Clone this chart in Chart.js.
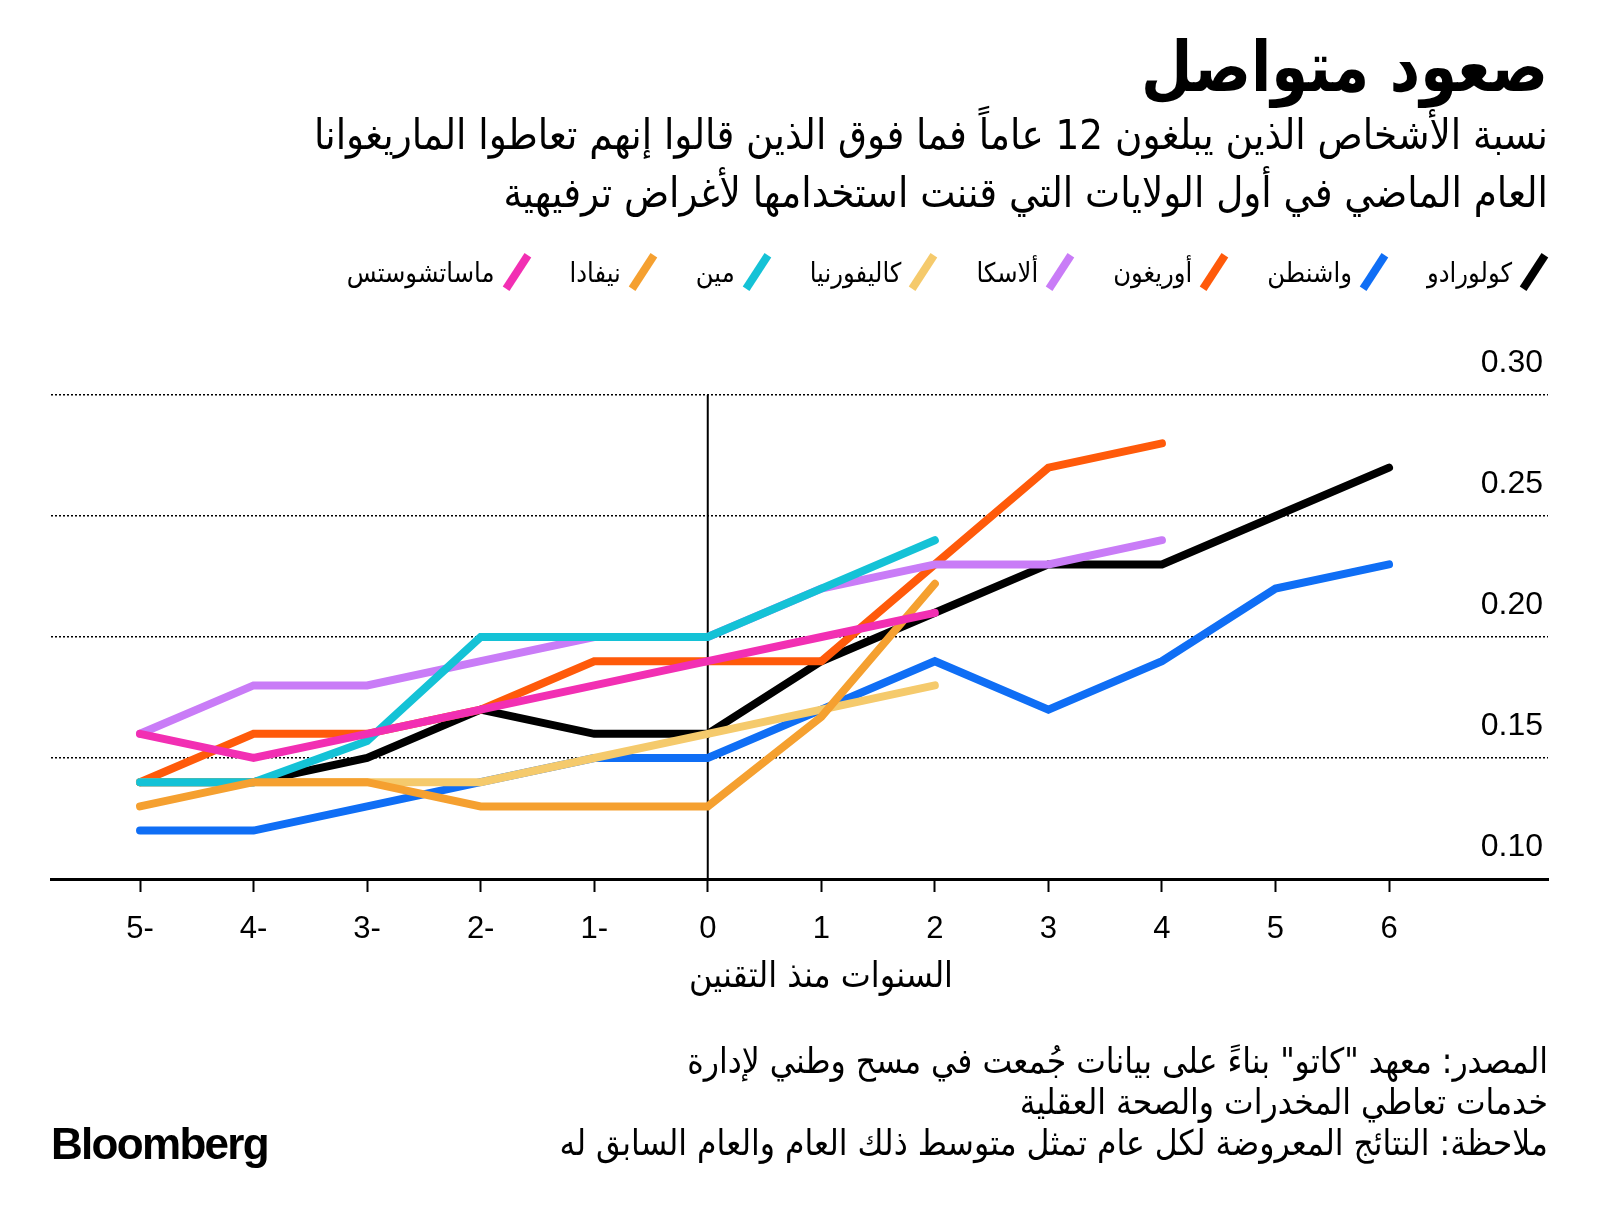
<!DOCTYPE html>
<html lang="ar">
<head>
<meta charset="utf-8">
<script src="https://cdn.jsdelivr.net/npm/chart.js@4.4.1/dist/chart.umd.min.js"></script>
<style>
  body { margin: 0; width: 1600px; height: 1224px; background: #fff; position: relative; overflow: hidden;
         font-family: "DejaVu Sans Condensed", "DejaVu Sans", sans-serif; color: #000; }
  canvas { position: absolute; left: 0; top: 0; }
  .rtl { position: absolute; right: 52px; direction: rtl; text-align: right; white-space: nowrap; }
  #title { top: 24px; font-size: 70px; font-weight: bold; line-height: 86px; transform: scaleX(0.94); transform-origin: right center; }
  #sub { top: 106px; font-size: 41.5px; line-height: 58px; }
  #legend { top: 252px; display: flex; gap: 39px; align-items: center; font-size: 27px; }
  .item { display: flex; align-items: center; gap: 8px; }
  .mark { width: 8px; height: 40px; transform: rotate(33deg); margin: 0 10px; }
  #xtitle { position: absolute; top: 955px; left: 821px; transform: translateX(-50%); font-size: 35.5px; line-height: 40px; direction: rtl; white-space: nowrap; }
  #foot { top: 1041px; font-size: 35px; line-height: 41px; }
  #logo { position: absolute; left: 51px; top: 1119px; font-family: "Liberation Sans", Arial, sans-serif;
          font-weight: bold; font-size: 44px; letter-spacing: -1.7px; }
</style>
</head>
<body>
<canvas id="chart" width="1600" height="1224"></canvas>
<div id="title" class="rtl">صعود متواصل</div>
<div id="sub" class="rtl">نسبة الأشخاص الذين يبلغون 12 عاماً فما فوق الذين قالوا إنهم تعاطوا الماريغوانا<br>العام الماضي في أول الولايات التي قننت استخدامها لأغراض ترفيهية</div>
<div id="legend" class="rtl"></div>
<div id="xtitle">السنوات منذ التقنين</div>
<div id="foot" class="rtl">المصدر: معهد "كاتو" بناءً على بيانات جُمعت في مسح وطني لإدارة<br>خدمات تعاطي المخدرات والصحة العقلية<br>ملاحظة: النتائج المعروضة لكل عام تمثل متوسط ذلك العام والعام السابق له</div>
<div id="logo">Bloomberg</div>
<script>
// years since legalisation
const years = [-5, -4, -3, -2, -1, 0, 1, 2, 3, 4, 5, 6];
const xTickLabels = ['5-', '4-', '3-', '2-', '1-', '0', '1', '2', '3', '4', '5', '6'];
const yTicks = [0.10, 0.15, 0.20, 0.25, 0.30];
const yTickLabels = ['0.10', '0.15', '0.20', '0.25', '0.30'];

const states = ['كولورادو', 'واشنطن', 'أوريغون', 'ألاسكا', 'كاليفورنيا', 'مين', 'نيفادا', 'ماساتشوستس'];

const colorado      = [0.14, 0.14, 0.15, 0.17, 0.16, 0.16, 0.19, 0.21, 0.23, 0.23, 0.25, 0.27];
const washington    = [0.12, 0.12, 0.13, 0.14, 0.15, 0.15, 0.17, 0.19, 0.17, 0.19, 0.22, 0.23];
const oregon        = [0.14, 0.16, 0.16, 0.17, 0.19, 0.19, 0.19, 0.23, 0.27, 0.28];
const alaska        = [0.16, 0.18, 0.18, 0.19, 0.20, 0.20, 0.22, 0.23, 0.23, 0.24];
const california    = [0.14, 0.14, 0.14, 0.14, 0.15, 0.16, 0.17, 0.18];
const maine         = [0.14, 0.14, 0.157, 0.20, 0.20, 0.20, 0.22, 0.24];
const nevada        = [0.13, 0.14, 0.14, 0.13, 0.13, 0.13, 0.167, 0.222];
const massachusetts = [0.16, 0.15, 0.16, 0.17, 0.18, 0.19, 0.20, 0.21];

const series = [colorado, washington, oregon, alaska, california, maine, nevada, massachusetts];
const colors = ['#000000', '#0f6ef5', '#ff5a0a', '#c97cf7', '#f5ca6c', '#14c2d6', '#f5a030', '#f22fb3'];

// legend
const legend = document.getElementById('legend');
states.forEach((name, i) => {
  const item = document.createElement('div');
  item.className = 'item';
  item.innerHTML = '<span class="mark" style="background:' + colors[i] + '"></span><span>' + name + '</span>';
  legend.appendChild(item);
});

const extras = {
  id: 'extras',
  beforeDatasetsDraw(chart) {
    const { ctx, scales: { x, y } } = chart;
    const x0 = x.getPixelForValue(0);
    ctx.save();
    ctx.strokeStyle = '#000';
    ctx.lineWidth = 2;
    ctx.beginPath();
    ctx.moveTo(x0, y.getPixelForValue(0.30));
    ctx.lineTo(x0, y.getPixelForValue(0.10));
    ctx.stroke();
    ctx.restore();
  },
  afterDraw(chart) {
    const { ctx, chartArea, scales: { y } } = chart;
    ctx.save();
    ctx.fillStyle = '#000';
    ctx.font = '32px "Liberation Sans", Arial, sans-serif';
    ctx.textAlign = 'right';
    ctx.textBaseline = 'middle';
    yTicks.forEach((v, i) => {
      ctx.fillText(yTickLabels[i], chartArea.right - 5, y.getPixelForValue(v) - 32);
    });
    ctx.restore();
  }
};

new Chart(document.getElementById('chart'), {
  type: 'line',
  data: {
    datasets: series.map((vals, i) => ({
      label: states[i],
      data: vals.map((v, j) => ({ x: years[j], y: v })),
      borderColor: colors[i],
      borderWidth: 8,
      borderCapStyle: 'round',
      pointRadius: 0,
      fill: false,
      tension: 0,
      order: series.length - 1 - i
    }))
  },
  options: {
    responsive: false,
    animation: false,
    layout: { padding: { left: 51, right: 52, top: 395, bottom: 1224 - 879 - 60 } },
    plugins: { legend: { display: false }, tooltip: { enabled: false } },
    scales: {
      x: {
        type: 'linear',
        min: -5.784,
        max: 7.4,
        afterFit: s => { s.height = 60; },
        afterBuildTicks: s => { s.ticks = years.map(v => ({ value: v })); },
        grid: { drawOnChartArea: false, drawTicks: true, tickLength: 13, tickWidth: 2, tickColor: '#000' },
        border: { display: true, color: '#000', width: 3 },
        ticks: {
          padding: 19,
          color: '#000',
          font: { family: '"Liberation Sans", Arial, sans-serif', size: 31 },
          callback: (v, i) => xTickLabels[i]
        }
      },
      y: {
        position: 'right',
        min: 0.10,
        max: 0.30,
        afterFit: s => { s.width = 0; },
        afterBuildTicks: s => { s.ticks = yTicks.map(v => ({ value: v })); },
        border: { display: false, dash: [2, 2] },
        grid: {
          drawTicks: false,
          color: c => (c.tick && c.tick.value > 0.11 ? '#000' : 'rgba(0,0,0,0)'),
          lineWidth: 1.5
        },
        ticks: { display: false }
      }
    }
  },
  plugins: [extras]
});
</script>
</body>
</html>
